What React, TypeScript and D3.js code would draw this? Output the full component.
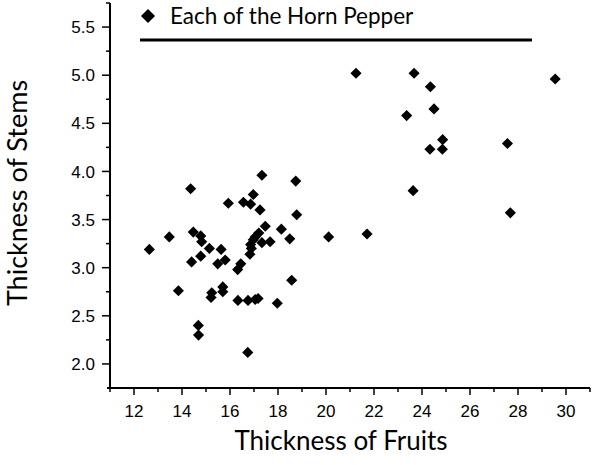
import * as d3 from 'd3';

// thickness of fruits (x) and stems (y)
const fruit = [
  12.64, 13.47, 14.36, 13.85, 14.47, 14.78, 14.82, 14.78, 14.4, 15.14,
  15.63, 15.49, 15.8, 15.24, 15.21, 15.7, 15.7, 14.68, 14.69, 16.74,
  15.93, 16.56, 16.86, 16.97, 17.33, 17.25, 18.74, 18.78, 17.47, 18.14,
  17.2, 17.05, 16.97, 16.86, 17.33, 17.67, 18.49, 16.89, 16.83, 16.45,
  16.32, 16.33, 16.75, 17.05, 17.17, 17.97, 18.57, 20.11,
  21.25, 23.67, 24.35, 29.55, 24.5, 23.36, 24.86, 24.33, 24.85, 27.56,
  23.63, 27.68, 21.71,
];
const stem = [
  3.19, 3.32, 3.82, 2.76, 3.37, 3.33, 3.27, 3.12, 3.06, 3.2,
  3.19, 3.04, 3.08, 2.74, 2.69, 2.8, 2.75, 2.4, 2.3, 2.12,
  3.67, 3.68, 3.66, 3.76, 3.96, 3.6, 3.9, 3.55, 3.43, 3.4,
  3.36, 3.32, 3.29, 3.24, 3.26, 3.27, 3.3, 3.2, 3.14, 3.04,
  2.98, 2.66, 2.66, 2.67, 2.68, 2.63, 2.87, 3.32,
  5.02, 5.02, 4.88, 4.96, 4.65, 4.58, 4.33, 4.23, 4.23, 4.29,
  3.8, 3.57, 3.35,
];

const xTicks = [12, 14, 16, 18, 20, 22, 24, 26, 28, 30];
const xMinor = [11, 13, 15, 17, 19, 21, 23, 25, 27, 29, 31];
const yTicks = [2.0, 2.5, 3.0, 3.5, 4.0, 4.5, 5.0, 5.5];
const yMinor = [2.25, 2.75, 3.25, 3.75, 4.25, 4.75, 5.25, 5.75];

const legendLabel = 'Each of the Horn Pepper';
const xTitle = 'Thickness of Fruits';
const yTitle = 'Thickness of Stems';

export default function App() {
  const width = 595;
  const height = 465;

  const x = d3.scaleLinear().domain([11, 31]).range([110, 590]);
  const y = d3.scaleLinear().domain([1.75, 5.75]).range([388, 3]);

  const diamond = d3.symbol().type(d3.symbolSquare).size(62)() as string;
  const legendDiamond = d3.symbol().type(d3.symbolSquare).size(100)() as string;

  const tickFont = '"Liberation Sans", Arial, sans-serif';
  const titleFont = 'Lato, "Open Sans", sans-serif';

  const x0 = x.range()[0];
  const y0 = y.range()[0];

  return (
    <svg
      width={width}
      height={height}
      style={{ position: 'absolute', left: 0, top: 0, background: '#fff' }}
    >
      {/* legend */}
      <path d={legendDiamond} transform="translate(148,16) rotate(45)" fill="#000" />
      <text x={170} y={24} fontFamily={titleFont} fontSize={22.5} fill="#000">
        {legendLabel}
      </text>
      <line x1={140} x2={532} y1={40} y2={40} stroke="#000" strokeWidth={3} />

      {/* axes */}
      <line x1={x0} x2={x0} y1={y.range()[1]} y2={y0 + 1} stroke="#000" strokeWidth={2} />
      <line x1={x0 - 3} x2={x.range()[1]} y1={y0} y2={y0} stroke="#000" strokeWidth={2} />

      {yTicks.map(t => (
        <g key={'y' + t}>
          <line x1={x0 - 8} x2={x0} y1={y(t)} y2={y(t)} stroke="#000" strokeWidth={1.5} />
          <text
            x={x0 - 15}
            y={y(t)}
            dy="0.36em"
            textAnchor="end"
            fontFamily={tickFont}
            fontSize={17}
            fill="#000"
          >
            {t.toFixed(1)}
          </text>
        </g>
      ))}
      {yMinor.map(t => (
        <line key={'ym' + t} x1={x0 - 4} x2={x0} y1={y(t)} y2={y(t)} stroke="#000" strokeWidth={1.5} />
      ))}

      {xTicks.map(t => (
        <g key={'x' + t}>
          <line x1={x(t)} x2={x(t)} y1={y0} y2={y0 + 7} stroke="#000" strokeWidth={1.5} />
          <text
            x={x(t)}
            y={417}
            textAnchor="middle"
            fontFamily={tickFont}
            fontSize={17}
            fill="#000"
          >
            {t}
          </text>
        </g>
      ))}
      {xMinor.map(t => (
        <line key={'xm' + t} x1={x(t)} x2={x(t)} y1={y0} y2={y0 + 4} stroke="#000" strokeWidth={1.5} />
      ))}

      {/* points */}
      {fruit.map((f, i) => (
        <path
          key={i}
          d={diamond}
          transform={`translate(${x(f)},${y(stem[i])}) rotate(45)`}
          fill="#000"
        />
      ))}

      {/* titles */}
      <text
        x={341}
        y={450}
        textAnchor="middle"
        fontFamily={titleFont}
        fontSize={26}
        fill="#000"
      >
        {xTitle}
      </text>
      <text
        transform="translate(27,193) rotate(-90)"
        textAnchor="middle"
        fontFamily={titleFont}
        fontSize={27}
        fill="#000"
      >
        {yTitle}
      </text>
    </svg>
  );
}
